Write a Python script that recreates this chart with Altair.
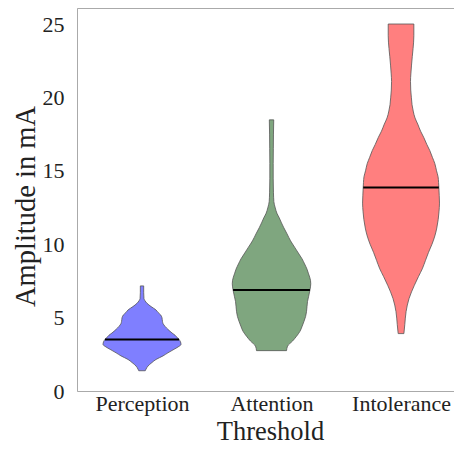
import altair as alt
import pandas as pd
import numpy as np

categories = ["Perception", "Attention", "Intolerance"]
colors = ["#7f7fff", "#7fa67f", "#ff7f7f"]
medians = [3.51, 6.88, 13.86]

# violin profiles: amplitude value and half-width (in category units)
perc_v = [1.38, 1.49, 1.7, 1.94, 2.15, 2.39, 2.6, 2.84, 3.0, 3.17, 3.35, 3.51, 3.62, 3.8, 3.95,
          4.2, 4.4, 4.6, 4.74, 5.0, 5.19, 5.35, 5.52, 5.75, 5.97, 6.15, 6.3, 6.7, 7.16]
perc_w = [0.025, 0.031, 0.046, 0.077, 0.108, 0.162, 0.2, 0.247, 0.278, 0.301, 0.297, 0.286, 0.274, 0.255, 0.232,
          0.2, 0.178, 0.162, 0.158, 0.154, 0.143, 0.124, 0.108, 0.07, 0.039, 0.023, 0.015, 0.013, 0.013]

att_v = [2.75, 3.06, 3.4, 3.73, 4.07, 4.4, 4.75, 5.07, 5.4, 5.75, 6.1, 6.42, 6.89, 7.3, 7.54, 7.98,
         8.3, 8.66, 9.0, 9.33, 9.8, 10.23, 10.7, 11.12, 11.45, 11.79, 12.1, 12.47, 12.9, 13.5,
         14.5, 15.5, 16.5, 17.5, 18.47]
att_w = [0.116, 0.124, 0.162, 0.193, 0.22, 0.236, 0.251, 0.263, 0.27, 0.274, 0.278, 0.286, 0.297, 0.303, 0.301, 0.286,
         0.274, 0.255, 0.236, 0.212, 0.178, 0.147, 0.12, 0.095, 0.077, 0.06, 0.042, 0.029, 0.018, 0.015,
         0.013, 0.013, 0.014, 0.015, 0.017]

int_v = [3.91, 4.52, 5.41, 6.3, 7.2, 7.8, 8.32, 8.9, 9.44, 10.0, 10.56, 11.1, 11.68, 12.2, 12.8,
         13.3, 13.86, 14.2, 14.6, 15.0, 15.49, 15.9, 16.38, 16.8, 17.28, 17.7, 18.18, 18.6, 19.07,
         19.5, 19.97, 20.5, 21.09, 21.6, 22.2, 22.8, 23.33, 24.2, 25.0]
int_w = [0.022, 0.029, 0.039, 0.062, 0.103, 0.135, 0.164, 0.189, 0.212, 0.239, 0.261, 0.276, 0.287, 0.293, 0.297,
         0.295, 0.292, 0.29, 0.286, 0.274, 0.261, 0.243, 0.222, 0.199, 0.175, 0.151, 0.129, 0.108, 0.094,
         0.085, 0.08, 0.075, 0.073, 0.076, 0.081, 0.087, 0.093, 0.099, 0.099]

profiles = [(perc_v, perc_w), (att_v, att_w), (int_v, int_w)]

rows = []
med_rows = []
for i, (vs, ws) in enumerate(profiles):
    for v, w in zip(vs, ws):
        rows.append({"cat": categories[i], "v": v, "lo": i - w, "hi": i + w})
    mw = float(np.interp(medians[i], vs, ws))
    med_rows.append({"cat": categories[i], "v": medians[i], "lo": i - mw, "hi": i + mw})
df = pd.DataFrame(rows)
med_df = pd.DataFrame(med_rows)

FONT = "Liberation Serif"
FRAME = "#aaaaaa"
TXT = "#222222"

x_scale = alt.Scale(domain=[-0.502, 2.409], nice=False, zero=False)
y_scale = alt.Scale(domain=[0, 26.09], nice=False, zero=False)

y_axis = alt.Axis(values=[0, 5, 10, 15, 20, 25], title="Amplitude in mA", grid=False, ticks=False,
                  labelPadding=13, domainColor=FRAME, labelColor=TXT,
                  titleColor=TXT, labelFontSize=22, titleFontSize=28.5, titleFontWeight="normal",
                  labelFont=FONT, titleFont=FONT, titleBaseline="alphabetic", titleX=-43, titleY=198,
                  titleAngle=270, titleAlign="center")
label_expr = "datum.value == 0 ? 'Perception' : (datum.value == 1 ? 'Attention' : 'Intolerance')"
x_axis = alt.Axis(values=[0, 1, 2], labelExpr=label_expr, title="Threshold", grid=False, ticks=False,
                  labelPadding=2, domainColor=FRAME, labelColor=TXT,
                  titleColor=TXT, labelFontSize=22, titleFontSize=26.5, titleFontWeight="normal",
                  labelFont=FONT, titleFont=FONT, titleBaseline="alphabetic", titleY=48,
                  titleX=193, titleAlign="center")
x_top = alt.Axis(orient="top", labels=False, ticks=False, title=None, grid=False, domainColor=FRAME)

violins = alt.Chart(df).mark_area(
    orient="horizontal", interpolate="monotone", stroke="#555555", strokeWidth=0.8
).encode(
    y=alt.Y("v:Q", scale=y_scale, axis=y_axis),
    x=alt.X("lo:Q", scale=x_scale, axis=x_axis),
    x2="hi:Q",
    color=alt.Color("cat:N", scale=alt.Scale(domain=categories, range=colors), legend=None),
    detail="cat:N",
)

medlines = alt.Chart(med_df).mark_rule(color="black", strokeWidth=2).encode(
    y=alt.Y("v:Q", scale=y_scale, axis=y_axis),
    x=alt.X("lo:Q", scale=x_scale, axis=x_top),
    x2="hi:Q",
)

chart = alt.layer(violins, medlines).resolve_axis(x="independent").properties(
    width=377, height=383,
    autosize=alt.AutoSizeParams(type="none"),
    padding={"left": 69, "top": 0, "right": 0, "bottom": 54},
).configure_view(strokeWidth=0).configure(background="white")

chart.save("out.html", embed_options={"renderer": "svg", "actions": False})
